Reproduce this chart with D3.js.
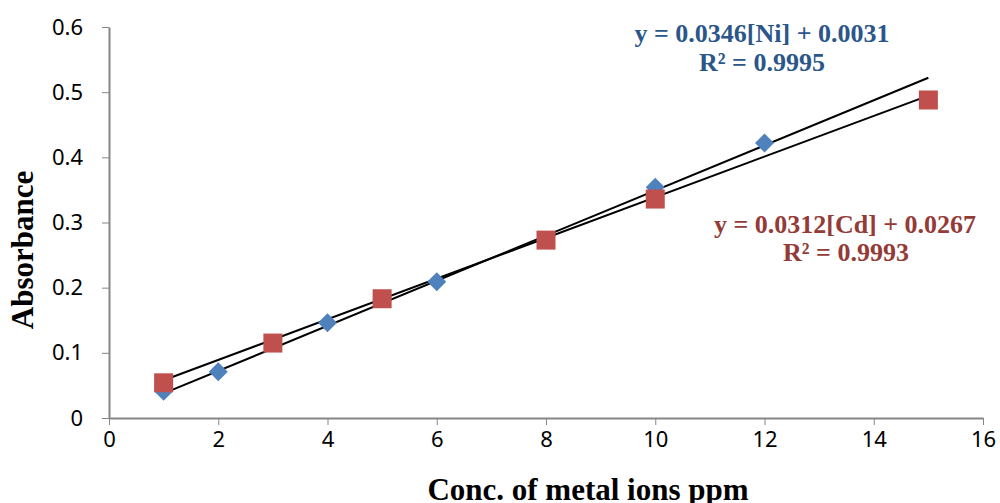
<!DOCTYPE html>
<meta charset="utf-8">
<style>
body { margin: 0; background: #fff; }
.axis path, .axis line { stroke: #868686; }
.title { font-family: "Liberation Serif", "DejaVu Serif", serif; font-weight: bold; font-size: 31px; }
.eq { font-family: "Liberation Serif", "DejaVu Serif", serif; font-weight: bold; font-size: 26px; text-anchor: middle; }
</style>
<div class="chart"></div>
<script src="https://cdnjs.cloudflare.com/ajax/libs/d3/7.8.5/d3.min.js"></script>
<script>

// Data
var niConc = [1, 2, 4, 6, 10, 12];
var niAbs = [0.041, 0.071, 0.146, 0.209, 0.354, 0.422];
var cdConc = [1, 3, 5, 8, 10, 15];
var cdAbs = [0.054, 0.115, 0.183, 0.273, 0.336, 0.488];
var niFit = {slope: 0.0346, icept: 0.0031, from: 1, to: 15};
var cdFit = {slope: 0.0312, icept: 0.0267, from: 1, to: 15};
var xTicks = [0, 2, 4, 6, 8, 10, 12, 14, 16];
var yTicks = [0, 0.1, 0.2, 0.3, 0.4, 0.5, 0.6];

var width = 1000, height = 503;

var svg = d3.select(".chart").append("svg")
    .attr("width", width)
    .attr("height", height);

var x = d3.scaleLinear().domain([0, 16]).range([109, 983]);
var y = d3.scaleLinear().domain([0, 0.6]).range([418, 27]);

// axes
var xAxis = svg.append("g")
    .attr("class", "axis")
    .attr("transform", "translate(0," + y(0) + ")")
    .call(d3.axisBottom(x).tickValues(xTicks).tickSize(7).tickSizeOuter(0).tickPadding(6).tickFormat(d3.format("d")));
xAxis.select(".domain").attr("stroke-width", 2);

var yAxis = svg.append("g")
    .attr("class", "axis")
    .attr("transform", "translate(" + x(0) + ",0)")
    .call(d3.axisLeft(y).tickValues(yTicks).tickSize(7).tickSizeOuter(0).tickPadding(19)
      .tickFormat(function(d) { return d === 0 ? "0" : d3.format(".1f")(d); }));
yAxis.select(".domain").attr("stroke-width", 2);

svg.selectAll(".axis").attr("font-size", null).attr("font-family", null);
svg.selectAll(".tick text")
    .style("font-family", "'Noto Sans', 'Open Sans', sans-serif")
    .style("font-size", "22px")
    .attr("fill", "#000");

// trendlines
[niFit, cdFit].forEach(function(f) {
  svg.append("line")
      .attr("x1", x(f.from))
      .attr("y1", y(f.slope * f.from + f.icept))
      .attr("x2", x(f.to))
      .attr("y2", y(f.slope * f.to + f.icept))
      .attr("stroke", "#000")
      .attr("stroke-width", 2);
});

// Ni diamonds
svg.append("g")
    .selectAll("path")
    .data(niConc)
    .enter()
    .append("path")
    .attr("d", "M0,-9.5L9.5,0L0,9.5L-9.5,0Z")
    .attr("transform", function(d, i) { return "translate(" + x(d) + "," + y(niAbs[i]) + ")"; })
    .attr("fill", "#4F81BD");

// Cd squares
svg.append("g")
    .selectAll("rect")
    .data(cdConc)
    .enter()
    .append("rect")
    .attr("x", function(d) { return x(d) - 9.5; })
    .attr("y", function(d, i) { return y(cdAbs[i]) - 9.5; })
    .attr("width", 19)
    .attr("height", 19)
    .attr("fill", "#C0504D");

// equations
svg.append("text").attr("class", "eq").attr("x", 762).attr("y", 42).attr("fill", "#2B568A")
    .text("y = 0.0346[Ni] + 0.0031");
svg.append("text").attr("class", "eq").attr("x", 762).attr("y", 71).attr("fill", "#2B568A")
    .text("R² = 0.9995");
svg.append("text").attr("class", "eq").attr("x", 845).attr("y", 233).attr("fill", "#943A37")
    .text("y = 0.0312[Cd] + 0.0267");
svg.append("text").attr("class", "eq").attr("x", 846).attr("y", 261).attr("fill", "#943A37")
    .text("R² = 0.9993");

// axis titles
svg.append("text")
    .attr("class", "title")
    .attr("transform", "translate(33,250) rotate(-90)")
    .style("text-anchor", "middle")
    .text("Absorbance");

svg.append("text")
    .attr("class", "title")
    .attr("x", 588)
    .attr("y", 500)
    .style("text-anchor", "middle")
    .text("Conc. of metal ions ppm");

</script>
